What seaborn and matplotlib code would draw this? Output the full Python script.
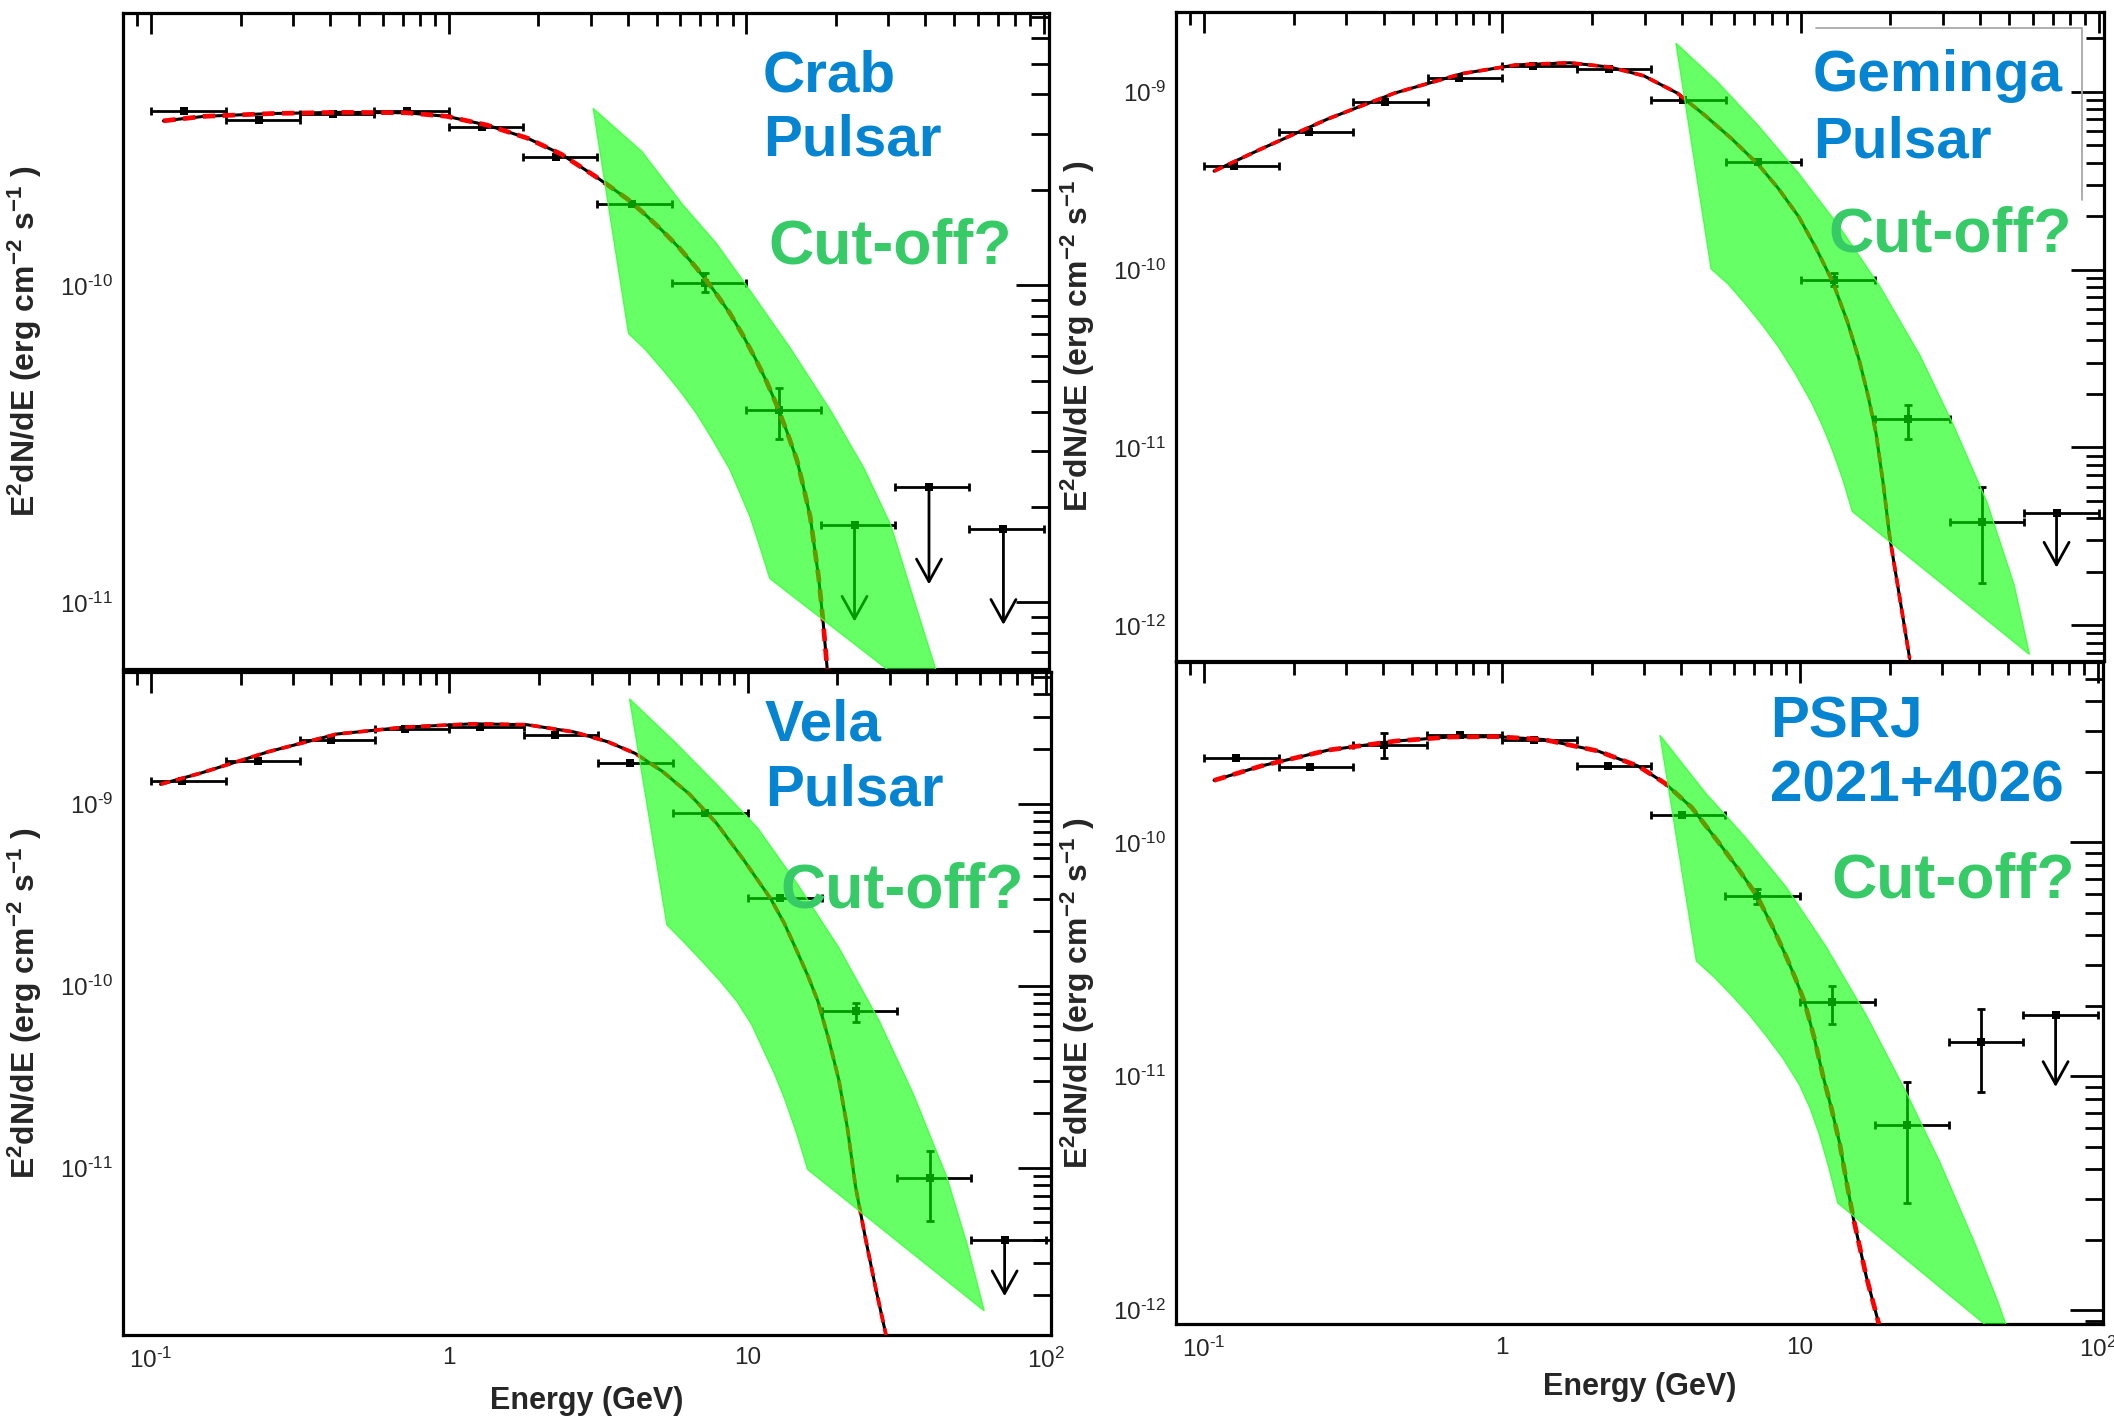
import numpy as np
import pandas as pd
import matplotlib
matplotlib.use("Agg")
import matplotlib.pyplot as plt
import seaborn as sns
from matplotlib.patches import Polygon
from matplotlib.lines import Line2D
from matplotlib.ticker import LogLocator, NullFormatter, FuncFormatter, FixedLocator

# ---------------------------------------------------------------- data
bin_edges = [0.1, 0.178, 0.316, 0.562, 1.0, 1.78, 3.16, 5.62, 10.0, 17.8, 31.6, 56.2, 100.0]

# Crab
crab_E = [0.129, 0.230, 0.409, 0.727, 1.29, 2.30, 4.13, 7.27, 12.9, 23.1, 41.1, 73.1]
crab_F = [3.54e-10, 3.33e-10, 3.47e-10, 3.55e-10, 3.16e-10, 2.53e-10, 1.80e-10, 1.02e-10, 4.03e-11, 1.75e-11, 2.31e-11, 1.71e-11]
crab_F_lo = [3.54e-10, 3.33e-10, 3.47e-10, 3.55e-10, 3.16e-10, 2.53e-10, 1.80e-10, 9.54e-11, 3.27e-11, 8.7e-12, 1.14e-11, 8.5e-12]
crab_F_hi = [3.54e-10, 3.33e-10, 3.47e-10, 3.55e-10, 3.16e-10, 2.53e-10, 1.80e-10, 1.096e-10, 4.75e-11, 1.75e-11, 2.31e-11, 1.71e-11]
crab_ul = [False, False, False, False, False, False, False, False, False, True, True, True]
crab_model_E = [0.110, 0.151, 0.254, 0.428, 0.72, 0.985, 1.345, 1.84, 2.39, 3.10, 3.53, 4.02, 4.58, 5.21, 5.94,
                6.77, 7.71, 8.78, 9.74, 10.8, 11.69, 12.6, 13.67, 14.8, 15.57, 16.4, 16.93, 17.5, 18.11, 18.7]
crab_model_F = [3.30e-10, 3.41e-10, 3.48e-10, 3.51e-10, 3.50e-10, 3.41e-10, 3.20e-10, 2.91e-10, 2.59e-10, 2.21e-10,
                2.03e-10, 1.86e-10, 1.67e-10, 1.49e-10, 1.315e-10, 1.14e-10, 9.75e-11, 8.2e-11, 6.96e-11, 5.8e-11,
                4.98e-11, 4.23e-11, 3.47e-11, 2.81e-11, 2.31e-11, 1.86e-11, 1.50e-11, 1.20e-11, 8.73e-12, 6.17e-12]
crab_band_E = [3.06, 4.46, 6.10, 7.91, 10.0, 14.0, 19.2, 24.9, 30.6, 36.8, 44.2, 48.7,
               30.3, 12.0, 11.10, 10.3, 9.49, 8.78, 7.71, 6.77, 5.94, 5.21, 4.58, 4.02]
crab_band_F = [3.61e-10, 2.64e-10, 1.80e-10, 1.36e-10, 1.0e-10, 6.37e-11, 4.03e-11, 2.64e-11, 1.75e-11, 1.0e-11, 5.79e-12, 4.33e-12,
               6.07e-12, 1.19e-11, 1.50e-11, 1.86e-11, 2.23e-11, 2.64e-11, 3.26e-11, 3.97e-11, 4.69e-11, 5.45e-11, 6.27e-11, 7.05e-11]

# Geminga
gem_E = [0.126, 0.225, 0.403, 0.717, 1.27, 2.27, 4.03, 7.21, 12.9, 22.9, 40.5, 72.1]
gem_F = [3.85e-10, 5.93e-10, 8.74e-10, 1.196e-9, 1.40e-9, 1.34e-9, 9.04e-10, 4.01e-10, 8.8e-11, 1.437e-11, 3.80e-12, 4.30e-12]
gem_F_lo = [3.85e-10, 5.93e-10, 8.74e-10, 1.196e-9, 1.40e-9, 1.34e-9, 9.04e-10, 4.01e-10, 8.09e-11, 1.12e-11, 1.73e-12, 2.11e-12]
gem_F_hi = [3.85e-10, 5.93e-10, 8.74e-10, 1.196e-9, 1.40e-9, 1.34e-9, 9.04e-10, 4.01e-10, 9.58e-11, 1.73e-11, 5.96e-12, 4.30e-12]
gem_ul = [False] * 11 + [True]
gem_model_E = [0.108, 0.154, 0.259, 0.435, 0.732, 1.11, 1.68, 2.30, 2.98, 3.86, 4.75, 5.86, 7.21, 8.42, 9.84,
               11.21, 12.8, 14.31, 15.7, 16.81, 17.9, 18.95, 19.9, 21.5, 23.2]
gem_model_F = [3.58e-10, 4.74e-10, 7.02e-10, 9.83e-10, 1.265e-9, 1.416e-9, 1.456e-9, 1.376e-9, 1.23e-9, 9.83e-10,
               7.43e-10, 5.46e-10, 3.90e-10, 2.86e-10, 1.99e-10, 1.34e-10, 8.56e-11, 5.16e-11, 3.12e-11, 1.97e-11,
               1.20e-11, 6.12e-12, 3.12e-12, 1.42e-12, 6.5e-13]
gem_band_E = [3.82, 5.28, 7.21, 9.84, 13.4, 18.4, 25.1, 32.5, 42.2, 52.0, 58.5,
              14.9, 13.87, 12.8, 11.87, 10.9, 9.59, 8.42, 7.40, 6.50, 5.70, 5.01]
gem_band_F = [1.876e-9, 1.13e-9, 6.45e-10, 3.48e-10, 1.77e-10, 8.09e-11, 3.30e-11, 1.34e-11, 4.89e-12, 1.68e-12, 6.86e-13,
              4.37e-12, 6.55e-12, 9.6e-12, 1.31e-11, 1.78e-11, 2.61e-11, 3.69e-11, 4.94e-11, 6.47e-11, 8.33e-11, 1.01e-10]

# Vela
vela_E = [0.127, 0.2275, 0.402, 0.711, 1.27, 2.26, 4.02, 7.19, 12.8, 23.0, 40.9, 72.7]
vela_F = [1.337e-9, 1.71e-9, 2.23e-9, 2.57e-9, 2.65e-9, 2.39e-9, 1.67e-9, 8.95e-10, 3.04e-10, 7.26e-11, 8.73e-12, 3.99e-12]
vela_F_lo = [1.337e-9, 1.71e-9, 2.23e-9, 2.57e-9, 2.65e-9, 2.39e-9, 1.67e-9, 8.95e-10, 3.04e-10, 6.34e-11, 5.11e-12, 1.96e-12]
vela_F_hi = [1.337e-9, 1.71e-9, 2.23e-9, 2.57e-9, 2.65e-9, 2.39e-9, 1.67e-9, 8.95e-10, 3.04e-10, 8.0e-11, 1.226e-11, 3.99e-12]
vela_ul = [False] * 11 + [True]
vela_model_E = [0.1076, 0.147, 0.2486, 0.4195, 0.708, 1.195, 1.816, 2.62, 3.40, 4.20, 5.17, 6.38, 7.86, 9.69, 11.95,
                13.27, 14.7, 15.93, 17.2, 18.64, 20.2, 21.6, 23.0, 24.9, 26.9, 29.1]
vela_model_F = [1.28e-9, 1.475e-9, 1.936e-9, 2.416e-9, 2.636e-9, 2.75e-9, 2.72e-9, 2.48e-9, 2.19e-9, 1.89e-9, 1.51e-9,
                1.13e-9, 7.82e-10, 4.92e-10, 3.00e-10, 2.20e-10, 1.52e-10, 1.13e-10, 8.2e-11, 5.16e-11, 3.05e-11,
                1.65e-11, 7.86e-12, 3.99e-12, 2.15e-12, 1.20e-12]
vela_band_E = [4.02, 5.74, 7.86, 10.8, 14.7, 20.2, 27.6, 35.9, 46.5, 54.5, 62.1,
               15.9, 14.58, 13.3, 12.33, 11.3, 10.32, 9.20, 8.07, 7.08, 6.15, 5.36]
vela_band_F = [3.77e-9, 2.16e-9, 1.28e-9, 7.35e-10, 3.61e-10, 1.62e-10, 6.41e-11, 2.54e-11, 8.89e-12, 3.75e-12, 1.63e-12,
               9.75e-12, 1.55e-11, 2.39e-11, 3.25e-11, 4.42e-11, 6.10e-11, 8.2e-11, 1.064e-10, 1.346e-10, 1.72e-10, 2.16e-10]

# PSR J2021+4026
psr_E = [0.1277, 0.2274, 0.403, 0.721, 1.28, 2.27, 4.01, 7.17, 12.8, 22.9, 40.5, 72.1]
psr_F = [2.29e-10, 2.09e-10, 2.61e-10, 2.87e-10, 2.74e-10, 2.11e-10, 1.31e-10, 5.91e-11, 2.07e-11, 6.19e-12, 1.395e-11, 1.82e-11]
psr_F_lo = [2.29e-10, 2.09e-10, 2.29e-10, 2.87e-10, 2.74e-10, 2.11e-10, 1.31e-10, 5.45e-11, 1.67e-11, 2.87e-12, 8.58e-12, 9.0e-12]
psr_F_hi = [2.29e-10, 2.09e-10, 2.92e-10, 2.87e-10, 2.74e-10, 2.11e-10, 1.31e-10, 6.30e-11, 2.44e-11, 9.46e-12, 1.93e-11, 1.82e-11]
psr_ul = [False] * 11 + [True]
psr_model_E = [0.108, 0.1555, 0.2616, 0.4397, 0.667, 0.959, 1.38, 2.09, 2.86, 3.52, 4.33, 5.33, 6.23, 7.17, 8.08,
               8.97, 9.69, 10.37, 11.15, 11.93, 12.77, 13.6, 14.31, 15.1, 16.7, 18.4]
psr_model_F = [1.84e-10, 2.12e-10, 2.48e-10, 2.71e-10, 2.82e-10, 2.83e-10, 2.75e-10, 2.46e-10, 2.12e-10, 1.79e-10,
               1.41e-10, 1.0e-10, 7.65e-11, 5.91e-11, 4.37e-11, 3.27e-11, 2.59e-11, 2.07e-11, 1.47e-11, 1.01e-11,
               7.24e-12, 5.15e-12, 3.57e-12, 2.48e-12, 1.39e-12, 8.73e-13]
psr_band_E = [3.39, 4.81, 6.56, 8.97, 12.2, 16.7, 22.9, 29.6, 38.5, 46.1, 52.5,
              13.4, 12.5, 11.6, 10.81, 9.95, 8.78, 7.67, 6.74, 5.92, 5.14, 4.49]
psr_band_F = [2.87e-10, 1.63e-10, 1.05e-10, 6.46e-11, 3.60e-11, 1.82e-11, 8.37e-12, 4.24e-12, 1.95e-12, 1.09e-12, 6.84e-13,
              2.87e-12, 4.07e-12, 5.67e-12, 7.31e-12, 9.22e-12, 1.19e-11, 1.50e-11, 1.84e-11, 2.21e-11, 2.66e-11, 3.11e-11]

names = [["Crab", "Pulsar"], ["Geminga", "Pulsar"], ["Vela", "Pulsar"], ["PSRJ", "2021+4026"]]
cutoff_text = "Cut-off?"
x_tick_values = [0.1, 1, 10, 100]
x_tick_labels = [r"$10^{\text{-}1}$", "1", "10", r"$10^{2}$"]
xlabel = "Energy (GeV)"
ylabel = r"$\mathbf{E^{2}dN/dE\ (erg\ cm^{-2}\ s^{-1}\ )}$"

# ---------------------------------------------------------------- style
sns.set_style("white")
plt.rcParams["font.family"] = ["Liberation Sans", "DejaVu Sans"]
plt.rcParams["mathtext.fontset"] = "custom"
plt.rcParams["mathtext.rm"] = "Liberation Sans"
plt.rcParams["mathtext.it"] = "Liberation Sans:italic"
plt.rcParams["mathtext.bf"] = "Liberation Sans:bold"
plt.rcParams["mathtext.default"] = "regular"

W, H = 2114, 1424
fig = plt.figure(figsize=(W / 100, H / 100), dpi=100)
fig.patch.set_facecolor("white")

def box(x0, y0, x1, y1):
    return [x0 / W, 1 - y1 / H, (x1 - x0) / W, (y1 - y0) / H]

panels = [
    dict(box=box(123, 13, 1049, 669), ylim=(6.17e-12, 7.22e-10), E=crab_E, F=crab_F, lo=crab_F_lo, hi=crab_F_hi,
         ul=crab_ul, mE=crab_model_E, mF=crab_model_F, bE=crab_band_E, bF=crab_band_F, bottom=False,
         name_xy=(763, 92, 156), cut_xy=(768, 263), dash_lw=3.4),
    dict(box=box(1176, 12, 2104, 661), ylim=(6.3e-13, 2.81e-9), E=gem_E, F=gem_F, lo=gem_F_lo, hi=gem_F_hi,
         ul=gem_ul, mE=gem_model_E, mF=gem_model_F, bE=gem_band_E, bF=gem_band_F, bottom=False,
         name_xy=(1813, 91, 157), cut_xy=(1828, 251), dash_lw=2.7),
    dict(box=box(123, 672, 1051, 1335), ylim=(1.2e-12, 5.3e-9), E=vela_E, F=vela_F, lo=vela_F_lo, hi=vela_F_hi,
         ul=vela_ul, mE=vela_model_E, mF=vela_model_F, bE=vela_band_E, bF=vela_band_F, bottom=True,
         name_xy=(765, 741, 806), cut_xy=(780, 908), dash_lw=2.7),
    dict(box=box(1176, 662, 2103, 1324), ylim=(8.73e-13, 5.9e-10), E=psr_E, F=psr_F, lo=psr_F_lo, hi=psr_F_hi,
         ul=psr_ul, mE=psr_model_E, mF=psr_model_F, bE=psr_band_E, bF=psr_band_F, bottom=True,
         name_xy=(1770, 737, 802), cut_xy=(1831, 898), dash_lw=3.4),
]

edges = np.array(bin_edges)
blue = "#0484D1"
green_txt = "#36CB67"

def yfmt(v, pos):
    e = int(round(np.log10(v)))
    if e < 0:
        return r"$10^{\text{-}%d}$" % (-e)
    return r"$10^{%d}$" % e

for i, p in enumerate(panels):
    ax = fig.add_axes(p["box"])
    ax.set_xscale("log")
    ax.set_yscale("log")
    ax.set_xlim(0.0805, 104)
    ax.set_ylim(*p["ylim"])
    ax.set_facecolor("white")

    E = np.array(p["E"]); F = np.array(p["F"])
    lo = np.array(p["lo"]); hi = np.array(p["hi"]); ul = np.array(p["ul"])
    xlo = E - edges[:-1]
    xhi = edges[1:] - E

    # model curves
    dfm = pd.DataFrame({"E": p["mE"], "F": p["mF"]})
    sns.lineplot(data=dfm, x="E", y="F", ax=ax, color="black", lw=2.2, sort=False,
                 estimator=None, zorder=3)
    sns.lineplot(data=dfm, x="E", y="F", ax=ax, color="#FF0000", lw=p["dash_lw"], sort=False,
                 estimator=None, linestyle=(0, (2.6, 1.6)), zorder=3.5)

    # detections
    det = ~ul
    ax.errorbar(E[det], F[det], xerr=[xlo[det], xhi[det]],
                yerr=[F[det] - lo[det], hi[det] - F[det]],
                fmt="none", ecolor="black", elinewidth=2.0, capsize=2.8, capthick=2.0, zorder=2.5)
    # upper limits
    ax.errorbar(E[ul], F[ul], xerr=[xlo[ul], xhi[ul]], fmt="none", ecolor="black",
                elinewidth=2.0, capsize=2.8, capthick=2.0, zorder=2.5)
    for e, f, t in zip(E[ul], F[ul], lo[ul]):
        ax.annotate("", xy=(e, t), xytext=(e, f),
                    arrowprops=dict(arrowstyle="->,head_length=0.9,head_width=0.5", lw=2.0,
                                    color="black", shrinkA=0, shrinkB=0, mutation_scale=18),
                    zorder=2.5)
    sns.scatterplot(x=E, y=F, ax=ax, marker="s", s=38, color="black", edgecolor="black",
                    linewidth=0, zorder=2.6, legend=False)

    # green band
    poly = Polygon(np.column_stack([p["bE"], p["bF"]]), closed=True,
                   facecolor=(0.0, 1.0, 0.0, 0.6), edgecolor=(0.25, 1.0, 0.25, 0.9),
                   lw=1.0, zorder=5)
    ax.add_patch(poly)

    # axes style
    for s in ax.spines.values():
        s.set_visible(True)
        s.set_color("black")
        s.set_linewidth(2.3)
    ax.yaxis.set_major_locator(LogLocator(base=10, numticks=30))
    ax.yaxis.set_minor_locator(LogLocator(base=10, subs=np.arange(2, 10), numticks=30))
    ax.yaxis.set_major_formatter(FuncFormatter(yfmt))
    ax.yaxis.set_minor_formatter(NullFormatter())
    ax.xaxis.set_major_locator(FixedLocator(x_tick_values))
    ax.xaxis.set_minor_locator(LogLocator(base=10, subs=np.arange(2, 10), numticks=30))
    ax.xaxis.set_minor_formatter(NullFormatter())
    ax.tick_params(axis="both", which="both", direction="in", top=True, right=True,
                   color="black", width=2.0)
    ax.tick_params(axis="y", which="major", length=24, labelsize=17.5, pad=7)
    ax.tick_params(axis="y", which="minor", length=13)
    ax.tick_params(axis="x", which="major", length=15, labelsize=17.5, pad=9)
    ax.tick_params(axis="x", which="minor", length=9)
    if p["bottom"]:
        ax.set_xticklabels(x_tick_labels)
        ax.set_xlabel(xlabel, fontsize=22, fontweight="bold")
        ax.xaxis.set_label_coords(0.5, -0.077 if i == 2 else -0.073)
    else:
        ax.set_xticklabels([])
        ax.set_xlabel("")
    ax.set_ylabel(ylabel, fontsize=23)
    ax.yaxis.set_label_coords(-0.085, 0.5)

    # texts
    nx, ny1, ny2 = p["name_xy"]
    fig.text(nx / W, 1 - ny1 / H, names[i][0], color=blue, fontsize=42, fontweight="bold",
             ha="left", va="baseline", zorder=10)
    fig.text(nx / W, 1 - ny2 / H, names[i][1], color=blue, fontsize=42, fontweight="bold",
             ha="left", va="baseline", zorder=10)
    cx, cy = p["cut_xy"]
    fig.text(cx / W, 1 - cy / H, cutoff_text, color=green_txt, fontsize=45, fontweight="bold",
             ha="left", va="baseline", zorder=10)

# thin grey frame remnant in the Geminga panel
fig.add_artist(Line2D([1816 / W, 2082 / W, 2082 / W], [1 - 28 / H, 1 - 28 / H, 1 - 200 / H],
                      transform=fig.transFigure, color="#A8A8A8", lw=1.3))

fig.savefig("out.png", dpi=100, facecolor="white")
